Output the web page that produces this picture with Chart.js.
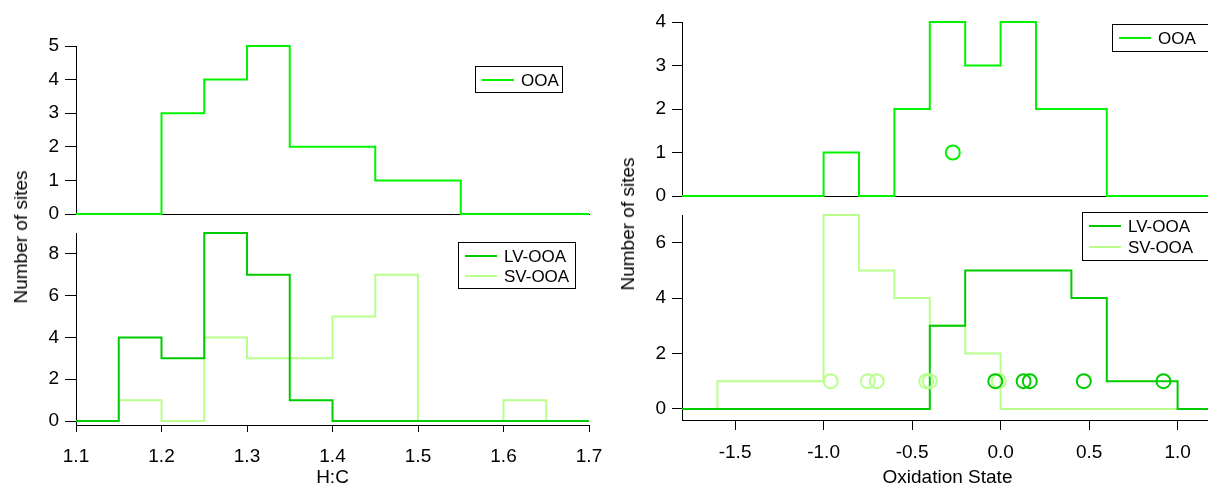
<!DOCTYPE html>
<html>
<head>
<meta charset="utf-8">
<script src="https://cdn.jsdelivr.net/npm/chart.js@4.4.1/dist/chart.umd.min.js"></script>
<style>
  html, body { margin: 0; padding: 0; background: #fff; overflow: hidden; }
  #wrap { position: relative; width: 1208px; height: 487px; overflow: hidden; }
  canvas { position: absolute; left: 0; top: 0; }
  .ylab {
    position: absolute;
    font: 19px "Liberation Sans", Arial, sans-serif;
    color: #000;
    white-space: nowrap;
    transform: translate(-50%, -50%) rotate(-90deg);
  }
</style>
</head>
<body>
<div id="wrap">
  <canvas id="hcTop" width="620" height="487"></canvas>
  <canvas id="hcBottom" width="620" height="487"></canvas>
  <canvas id="osTop" width="1230" height="487"></canvas>
  <canvas id="osBottom" width="1230" height="487"></canvas>
  <div class="ylab" style="left:21px; top:237px;">Number of sites</div>
  <div class="ylab" style="left:628px; top:224px;">Number of sites</div>
</div>
<script>
// H:C histograms (bin edges, counts per bin)
const hcEdges = [1.1, 1.15, 1.2, 1.25, 1.3, 1.35, 1.4, 1.45, 1.5, 1.55, 1.6, 1.65, 1.7];
const hcTicks = [1.1, 1.2, 1.3, 1.4, 1.5, 1.6, 1.7];
const hcOOA = [0, 0, 3, 4, 5, 2, 2, 1, 1, 0, 0, 0];
const hcLV = [0, 4, 3, 9, 7, 1, 0, 0, 0, 0, 0, 0];
const hcSV = [0, 1, 0, 4, 3, 3, 5, 7, 0, 0, 1, 0];

// Oxidation state histograms
const osEdges = [-1.8, -1.6, -1.4, -1.2, -1.0, -0.8, -0.6, -0.4, -0.2, 0.0, 0.2, 0.4, 0.6, 0.8, 1.0, 1.2];
const osTicks = [-1.5, -1.0, -0.5, 0.0, 0.5, 1.0];
const osOOA = [0, 0, 0, 0, 1, 0, 2, 4, 3, 4, 2, 2, 0, 0, 0];
const osLV = [0, 0, 0, 0, 0, 0, 0, 3, 5, 5, 5, 4, 1, 1, 0];
const osSV = [0, 1, 1, 1, 7, 5, 4, 3, 2, 0, 0, 0, 0, 0, 0];

// individual sites marked with circles (all at 1 site)
const ooaSites = [-0.27];
const lvSites = [-0.03, 0.13, 0.165, 0.47, 0.92];
const svSites = [-0.96, -0.75, -0.70, -0.42, -0.40, -0.01];

const OOA_COLOR = "#00f400";
const LV_COLOR = "#00cc00";
const SV_COLOR = "#b8ff8c";
const FONT = '"Liberation Sans", Arial, sans-serif';
const H = 487;

function stepPoints(edges, counts) {
  const pts = counts.map((c, i) => ({ x: edges[i], y: c }));
  pts.push({ x: edges[edges.length - 1], y: counts[counts.length - 1] });
  return pts;
}

function histSet(label, edges, counts, color) {
  return {
    label: label,
    data: stepPoints(edges, counts),
    borderColor: color,
    borderWidth: 2,
    stepped: "before",
    pointRadius: 0,
    fill: false,
    clip: 3,
  };
}

function siteSet(xs, color) {
  return {
    label: "",
    data: xs.map((x) => ({ x: x, y: 1 })),
    showLine: false,
    borderColor: color,
    pointBorderColor: color,
    pointBackgroundColor: "rgba(0,0,0,0)",
    pointRadius: 7,
    pointBorderWidth: 2,
    clip: 10,
  };
}

// legend drawn as a black framed box like the original
const boxLegend = {
  id: "boxLegend",
  afterDraw(chart, args, opts) {
    if (!opts.box) return;
    const ctx = chart.ctx;
    const [x, y, w, h] = opts.box;
    ctx.save();
    ctx.strokeStyle = "#000";
    ctx.lineWidth = 1;
    ctx.strokeRect(x + 0.5, y + 0.5, w, h);
    ctx.font = "17px " + FONT;
    ctx.textBaseline = "middle";
    let row = 0;
    chart.data.datasets.forEach((ds) => {
      if (!ds.label) return;
      const cy = y + opts.firstRow + row * opts.rowGap;
      ctx.strokeStyle = ds.borderColor;
      ctx.lineWidth = 2;
      ctx.beginPath();
      ctx.moveTo(x + 7, cy);
      ctx.lineTo(x + 39, cy);
      ctx.stroke();
      ctx.fillStyle = "#000";
      ctx.fillText(ds.label, x + 46, cy + 1);
      row++;
    });
    ctx.restore();
  },
};

function makePanel(id, area, opt) {
  const canvas = document.getElementById(id);
  const W = canvas.width;
  const bottomAxis = !!opt.xTitle;
  const xScale = {
    type: "linear",
    min: opt.xMin,
    max: opt.xMax,
    afterFit: (s) => { s.height = bottomAxis ? H - area.b : 0; },
    afterBuildTicks: (s) => { s.ticks = opt.xTicks.map((v) => ({ value: v })); },
    border: { color: "#000", width: 1 },
    grid: { drawOnChartArea: false, drawTicks: bottomAxis, tickLength: opt.xTick || 7, color: "#000" },
    ticks: {
      display: bottomAxis,
      autoSkip: false,
      maxRotation: 0,
      color: "#000",
      padding: opt.xPad || 12,
      font: { family: FONT, size: 19 },
      callback: (v) => Number(v).toFixed(1),
    },
  };
  if (bottomAxis) {
    xScale.title = {
      display: true,
      text: opt.xTitle,
      color: "#000",
      padding: 0,
      font: { family: FONT, size: 19, lineHeight: 1 },
    };
  }
  return new Chart(canvas, {
    type: "line",
    data: { datasets: opt.datasets },
    options: {
      responsive: false,
      animation: false,
      events: [],
      layout: {
        padding: {
          left: area.l - 60,
          top: area.t,
          right: W - area.r,
          bottom: bottomAxis ? 0 : H - area.b,
        },
      },
      scales: {
        x: xScale,
        y: {
          min: opt.yMin,
          max: opt.yMax,
          afterFit: (s) => { s.width = 60; },
          border: { color: "#000", width: 1 },
          grid: { drawOnChartArea: false, tickLength: opt.yTick || 11, color: "#000" },
          ticks: {
            stepSize: opt.yStep,
            includeBounds: false,
            color: "#000",
            padding: 6,
            font: { family: FONT, size: 19 },
          },
        },
      },
      plugins: {
        legend: { display: false },
        tooltip: { enabled: false },
        boxLegend: opt.legend,
      },
    },
    plugins: [boxLegend],
  });
}

makePanel("hcTop", { l: 76, t: 46, r: 589, b: 214 }, {
  xMin: 1.1, xMax: 1.7, xTicks: hcTicks,
  yMin: 0, yMax: 5, yStep: 1,
  datasets: [histSet("OOA", hcEdges, hcOOA, OOA_COLOR)],
  legend: { box: [475, 66, 87, 26], firstRow: 14, rowGap: 20 },
});

makePanel("hcBottom", { l: 76, t: 233, r: 589, b: 425 }, {
  xMin: 1.1, xMax: 1.7, xTicks: hcTicks, xTitle: "H:C", xTick: 7, xPad: 13,
  yMin: -0.19, yMax: 9, yStep: 2,
  datasets: [
    histSet("LV-OOA", hcEdges, hcLV, LV_COLOR),
    histSet("SV-OOA", hcEdges, hcSV, SV_COLOR),
  ],
  legend: { box: [458, 242, 117, 46], firstRow: 14, rowGap: 20 },
});

makePanel("osTop", { l: 682, t: 22, r: 1213, b: 196 }, {
  xMin: -1.8, xMax: 1.2, xTicks: osTicks,
  yMin: 0, yMax: 4, yStep: 1, yTick: 10,
  datasets: [
    siteSet(ooaSites, OOA_COLOR),
    histSet("OOA", osEdges, osOOA, OOA_COLOR),
  ],
  legend: { box: [1112, 24, 120, 27], firstRow: 14, rowGap: 20 },
});

makePanel("osBottom", { l: 682, t: 215, r: 1213, b: 420 }, {
  xMin: -1.8, xMax: 1.2, xTicks: osTicks, xTitle: "Oxidation State", xTick: 10, xPad: 11,
  yMin: -0.4, yMax: 7, yStep: 2, yTick: 10,
  datasets: [
    siteSet(lvSites, LV_COLOR),
    siteSet(svSites, SV_COLOR),
    histSet("LV-OOA", osEdges, osLV, LV_COLOR),
    histSet("SV-OOA", osEdges, osSV, SV_COLOR),
  ],
  legend: { box: [1082, 212, 140, 48], firstRow: 14, rowGap: 21 },
});
</script>
</body>
</html>
